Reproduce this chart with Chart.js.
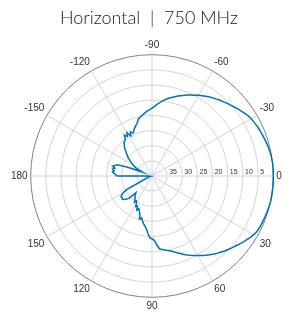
<!DOCTYPE html>
<html>
<head>
<meta charset="utf-8">
<script src="https://cdn.jsdelivr.net/npm/chart.js@4/dist/chart.umd.min.js"></script>
<style>
  html, body { margin: 0; padding: 0; background: #fff; }
  #wrap { width: 288px; height: 316px; }
</style>
</head>
<body>
<div id="wrap"><canvas id="polar"></canvas></div>
<script>
// attenuation below peak (dB), sampled every 2 degrees
// 0 .. 180 deg (lower half of the plot)
const lowerAtt = [
  0, 0, 0, 0, 0, 0, 0, 0.1, 0.2, 0.3,
  0.4, 0.5, 0.6, 0.7, 0.9, 1.3, 1.8, 2.4, 2.9, 3.5,
  4.1, 4.6, 5.1, 5.6, 6.2, 6.7, 7.3, 7.9, 8.5, 9.1,
  9.7, 10.3, 10.9, 11.5, 12.1, 12.8, 13.4, 14.0, 14.5, 14.9,
  15.2, 15.5, 15.8, 17.2, 18.8, 19.3, 19.6, 21.0, 22.4, 23.3,
  24.0, 24.9, 25.8, 25.2, 26.9, 27.8, 28.4, 27.7, 29.0, 28.6,
  29.7, 30.3, 29.6, 30.5, 30.9, 31.3, 31.8, 32.4, 29.4, 28.5,
  27.9, 27.6, 27.9, 27.7, 28.2, 29.2, 30.6, 35.8, 37.6, 38.4,
  38.8, 39.0, 39.2, 39.1, 39.3, 39.2, 39.4, 39.3, 39.2, 39.0,
  28.5
];
// -2 .. -178 deg (upper half of the plot)
const upperAtt = [
  0, 0, 0, 0.1, 0.2, 0.3, 0.5, 0.7, 0.9, 1.1,
  1.3, 1.5, 1.7, 2.0, 2.2, 2.6, 3.1, 3.6, 4.1, 4.6,
  5.1, 5.5, 6.0, 6.4, 6.9, 7.3, 7.8, 8.3, 8.8, 9.3,
  9.8, 10.3, 10.8, 11.3, 11.8, 12.3, 12.8, 13.3, 13.8, 14.4,
  15.0, 15.7, 16.3, 17.0, 17.6, 18.1, 18.5, 19.0, 19.5, 19.9,
  20.3, 21.0, 22.0, 22.6, 23.2, 24.0, 24.5, 23.8, 25.0, 23.5,
  24.6, 23.7, 25.0, 25.4, 25.6, 26.4, 27.0, 27.8, 28.6, 29.3,
  30.0, 30.8, 31.5, 32.2, 32.9, 33.6, 34.3, 35.5, 36.5, 31.5,
  28.0, 27.3, 26.6, 27.5, 26.8, 27.4, 26.9, 27.5, 28.0
];
const angleTicks = [0, 30, 60, 90, 120, 150, 180, -150, -120, -90, -60, -30];
const radialTicks = [35, 30, 25, 20, 15, 10, 5];

const attData = lowerAtt.concat(upperAtt.slice().reverse());
const angles = attData.map((_, i) => (i * 2 > 180 ? i * 2 - 360 : i * 2));

const radialTickLabels = {
  id: 'radialTickLabels',
  beforeDatasetsDraw(chart) {
    const s = chart.scales.r;
    const ctx = chart.ctx;
    ctx.save();
    ctx.font = '7px "Liberation Sans", Arial, sans-serif';
    ctx.fillStyle = '#333';
    ctx.textAlign = 'left';
    ctx.textBaseline = 'bottom';
    radialTicks.forEach((v) => {
      const x = s.xCenter + s.getDistanceFromCenterForValue(v) + 2;
      ctx.fillText(String(v), x, s.yCenter - 0.5);
    });
    ctx.restore();
  }
};

new Chart(document.getElementById('polar'), {
  type: 'radar',
  data: {
    labels: angles,
    datasets: [{
      data: attData,
      borderColor: '#0072BD',
      borderWidth: 1.5,
      fill: false,
      pointRadius: 0,
      tension: 0
    }]
  },
  options: {
    responsive: true,
    maintainAspectRatio: false,
    animation: false,
    layout: { padding: { top: 0, left: 6, right: -4, bottom: -10 } },
    plugins: {
      legend: { display: false },
      tooltip: { enabled: false },
      title: {
        display: true,
        text: 'Horizontal  |  750 MHz',
        color: '#1a1a1a',
        font: { family: 'Lato', size: 18, weight: 300 },
        padding: { top: 7, bottom: 8 }
      }
    },
    scales: {
      r: {
        startAngle: 90,
        min: 0,
        max: 40,
        reverse: true,
        ticks: { display: false, stepSize: 5 },
        grid: {
          circular: true,
          color: (c) => (c.tick && c.tick.value === 0 ? '#808080' : '#d4d4d4'),
          lineWidth: 1
        },
        angleLines: {
          color: '#d4d4d4',
          lineWidth: (c) => (c.index % 15 === 0 ? 1 : 0)
        },
        pointLabels: {
          padding: 3,
          color: '#333',
          font: { family: 'Liberation Sans', size: 10 },
          callback: (v) => (angleTicks.includes(v) ? String(v) : '')
        }
      }
    }
  },
  plugins: [radialTickLabels]
});
</script>
</body>
</html>
